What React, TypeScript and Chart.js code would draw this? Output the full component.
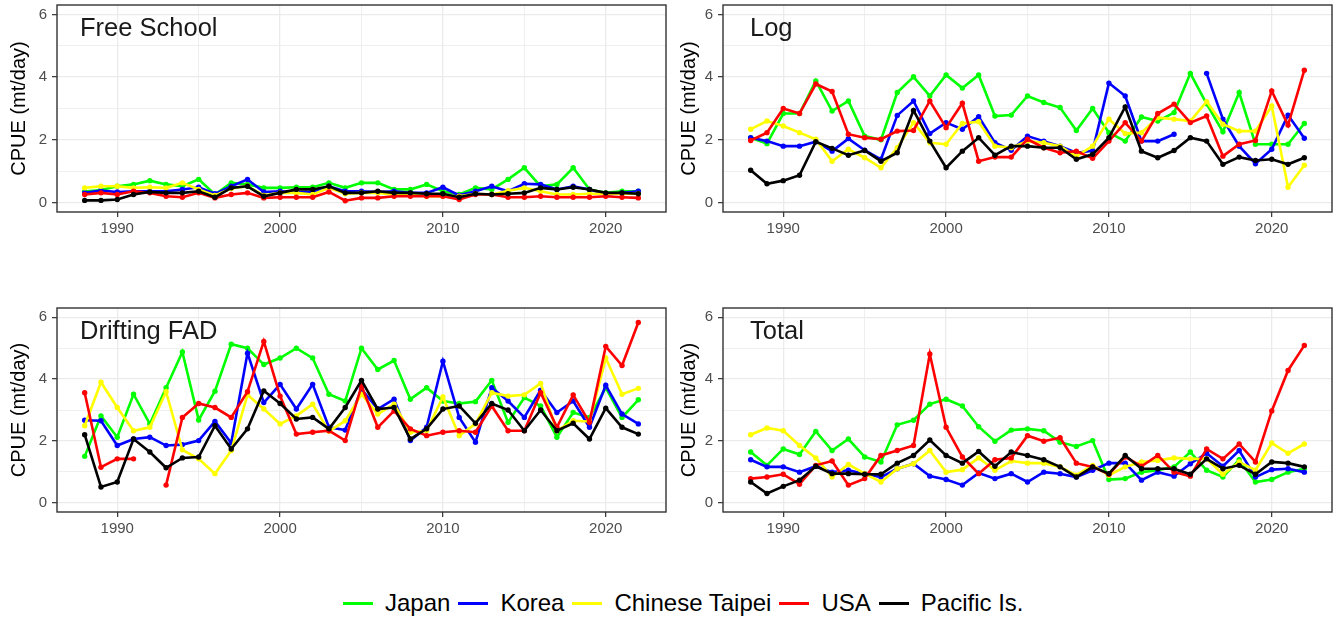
import React, { useEffect, useRef } from "react";
import { Chart, registerables } from "chart.js";
Chart.register(...registerables);

const FONT = '"Liberation Sans", Arial, Helvetica, sans-serif';

const years = [1988, 1989, 1990, 1991, 1992, 1993, 1994, 1995, 1996, 1997, 1998, 1999, 2000, 2001, 2002, 2003, 2004, 2005, 2006, 2007, 2008, 2009, 2010, 2011, 2012, 2013, 2014, 2015, 2016, 2017, 2018, 2019, 2020, 2021, 2022];

const countries = ["Japan", "Korea", "Chinese Taipei", "USA", "Pacific Is."];
const countryColors = ["#00FF00", "#0000FF", "#FFFF00", "#FF0000", "#000000"];

const xTicks = [1990, 1995, 2000, 2005, 2010, 2015, 2020];
const yTicks = [0, 1, 2, 3, 4, 5, 6];

// Free School
const fsJapan = [0.35, 0.40, 0.52, 0.58, 0.70, 0.58, 0.52, 0.74, 0.26, 0.63, 0.58, 0.47, 0.47, 0.49, 0.49, 0.63, 0.47, 0.63, 0.63, 0.42, 0.42, 0.58, 0.36, 0.26, 0.47, 0.42, 0.74, 1.11, 0.52, 0.58, 1.11, 0.42, 0.31, 0.36, 0.36];
const fsKorea = [0.31, 0.38, 0.34, 0.36, 0.36, 0.36, 0.42, 0.49, 0.28, 0.52, 0.74, 0.34, 0.36, 0.34, 0.34, 0.52, 0.36, 0.36, 0.34, 0.36, 0.31, 0.31, 0.49, 0.23, 0.36, 0.52, 0.36, 0.60, 0.58, 0.42, 0.52, 0.42, 0.26, 0.31, 0.36];
const fsTaipei = [0.47, 0.52, 0.52, 0.47, 0.49, 0.47, 0.63, 0.42, 0.23, 0.45, 0.52, 0.23, 0.31, 0.31, 0.26, 0.47, 0.28, 0.31, 0.31, 0.26, 0.26, 0.20, 0.20, 0.20, 0.28, 0.26, 0.38, 0.47, 0.36, 0.26, 0.26, 0.28, 0.28, 0.28, 0.28];
const fsUSA = [0.26, 0.31, 0.26, 0.36, 0.31, 0.20, 0.17, 0.31, 0.15, 0.26, 0.31, 0.15, 0.17, 0.17, 0.17, 0.34, 0.06, 0.15, 0.15, 0.20, 0.20, 0.20, 0.20, 0.10, 0.26, 0.26, 0.17, 0.17, 0.20, 0.17, 0.17, 0.17, 0.20, 0.17, 0.15];
const fsPacific = [0.07, 0.07, 0.10, 0.26, 0.34, 0.31, 0.31, 0.36, 0.17, 0.47, 0.52, 0.20, 0.31, 0.42, 0.42, 0.52, 0.31, 0.31, 0.36, 0.31, 0.31, 0.28, 0.28, 0.17, 0.28, 0.26, 0.28, 0.31, 0.47, 0.42, 0.49, 0.42, 0.31, 0.31, 0.28];

// Log
const logJapan = [2.07, 1.88, 2.84, 2.84, 3.88, 2.92, 3.24, 2.12, 2.00, 3.51, 4.01, 3.40, 4.07, 3.65, 4.07, 2.76, 2.79, 3.40, 3.19, 3.03, 2.30, 3.00, 2.23, 1.96, 2.73, 2.60, 2.87, 4.12, 3.15, 2.26, 3.51, 1.86, 1.86, 1.86, 2.52];
const logKorea = [2.07, 1.96, 1.80, 1.80, 1.94, 1.64, 2.04, 1.67, 1.38, 2.78, 3.24, 2.20, 2.55, 2.34, 2.74, 1.91, 1.67, 2.12, 1.96, 1.80, 1.59, 1.65, 3.81, 3.40, 1.96, 1.96, 2.18, null, 4.12, 2.66, 1.80, 1.24, 1.70, 2.79, 2.05];
const logTaipei = [2.34, 2.60, 2.44, 2.23, 2.02, 1.32, 1.70, 1.43, 1.11, 1.75, 2.55, 1.91, 1.86, 2.52, 2.58, 1.80, 1.75, 1.96, 1.91, 1.80, 1.48, 1.80, 2.66, 2.20, 2.23, 2.71, 2.66, 2.60, 3.22, 2.50, 2.28, 2.28, 3.08, 0.49, 1.19];
const logUSA = [1.98, 2.23, 3.00, 2.84, 3.78, 3.54, 2.18, 2.07, 2.02, 2.28, 2.30, 3.24, 2.39, 3.17, 1.32, 1.45, 1.45, 2.02, 1.75, 1.59, 1.64, 1.41, 1.96, 2.55, 1.96, 2.84, 3.14, 2.55, 2.76, 1.48, 1.86, 1.98, 3.56, 2.47, 4.22];
const logPacific = [1.03, 0.60, 0.70, 0.87, 1.94, 1.73, 1.51, 1.66, 1.32, 1.59, 2.94, 1.96, 1.11, 1.64, 2.07, 1.51, 1.80, 1.80, 1.75, 1.75, 1.38, 1.54, 2.07, 3.05, 1.64, 1.43, 1.66, 2.07, 1.96, 1.22, 1.45, 1.34, 1.38, 1.22, 1.43];

// Drifting FAD
const fadJapan = [1.50, 2.81, 2.12, 3.51, 2.55, 3.72, 4.88, 2.68, 3.61, 5.13, 5.00, 4.47, 4.68, 5.00, 4.68, 3.51, 3.29, 5.00, 4.31, 4.60, 3.35, 3.72, 3.29, 3.21, 3.27, 3.96, 2.60, 3.40, 3.13, 2.12, 2.92, 2.76, 3.72, 2.76, 3.33];
const fadKorea = [2.67, 2.65, 1.85, 2.06, 2.12, 1.85, 1.88, 2.01, 2.63, 1.93, 4.84, 3.24, 3.83, 3.03, 3.83, 2.44, 2.35, 3.67, 3.03, 3.35, 2.01, 2.44, 4.58, 2.76, 1.96, 3.72, 3.29, 2.76, 3.64, 2.92, 3.29, 2.44, 3.80, 2.87, 2.55];
const fadTaipei = [2.49, 3.90, 3.08, 2.33, 2.44, 3.59, 1.71, 1.42, 0.94, 1.69, 3.49, 3.03, 2.55, 2.81, 3.19, 2.31, 2.65, 3.51, 2.87, 3.19, 2.28, 2.33, 3.42, 2.17, 2.55, 3.56, 3.45, 3.49, 3.86, 2.33, 2.65, 2.63, 4.68, 3.51, 3.70];
const fadUSA = [3.56, 1.15, 1.42, 1.42, null, 0.57, 2.76, 3.21, 3.08, 2.76, 3.59, 5.22, 3.45, 2.22, 2.28, 2.33, 2.01, 3.78, 2.44, 2.97, 2.39, 2.17, 2.28, 2.33, 2.28, 3.13, 2.33, 2.33, 3.56, 2.44, 3.49, 2.60, 5.06, 4.44, 5.83];
const fadPacific = [2.20, 0.51, 0.67, 2.06, 1.64, 1.13, 1.45, 1.48, 2.49, 1.74, 2.39, 3.62, 3.21, 2.71, 2.76, 2.39, 3.08, 3.96, 3.03, 3.08, 2.06, 2.39, 3.03, 3.13, 2.57, 3.21, 3.00, 2.33, 3.00, 2.33, 2.57, 2.06, 3.06, 2.44, 2.22];

// Total
const totJapan = [1.64, 1.21, 1.74, 1.56, 2.31, 1.69, 2.06, 1.48, 1.32, 2.52, 2.67, 3.19, 3.35, 3.13, 2.46, 1.99, 2.35, 2.39, 2.33, 1.96, 1.82, 2.01, 0.75, 0.78, 0.99, 1.05, 1.16, 1.64, 1.05, 0.83, 1.39, 0.67, 0.75, 0.99, 1.10];
const totKorea = [1.39, 1.16, 1.16, 0.99, 1.18, 0.99, 1.05, 0.94, 0.83, 1.10, 1.26, 0.86, 0.75, 0.57, 0.96, 0.78, 0.94, 0.67, 0.99, 0.94, 0.83, 1.05, 1.28, 1.28, 0.73, 0.99, 0.86, 1.26, 1.60, 1.18, 1.69, 0.83, 1.07, 1.10, 0.99];
const totTaipei = [2.20, 2.42, 2.33, 1.85, 1.45, 0.83, 1.24, 0.94, 0.67, 1.10, 1.26, 1.69, 0.99, 1.07, 1.45, 1.05, 1.35, 1.28, 1.28, 1.16, 0.89, 1.21, 0.89, 1.16, 1.32, 1.37, 1.45, 1.42, 1.42, 0.92, 1.32, 1.05, 1.93, 1.60, 1.90];
const totUSA = [0.78, 0.83, 0.92, 0.60, 1.21, 1.35, 0.57, 0.78, 1.53, 1.69, 1.85, 4.81, 2.44, 1.48, 0.94, 1.39, 1.45, 2.17, 1.99, 2.10, 1.28, 1.16, 0.92, 1.48, 1.18, 1.53, 0.99, 0.86, 1.74, 1.42, 1.90, 1.32, 2.97, 4.28, 5.09];
const totPacific = [0.67, 0.30, 0.53, 0.73, 1.18, 0.94, 0.94, 0.92, 0.92, 1.28, 1.53, 2.03, 1.53, 1.28, 1.66, 1.18, 1.64, 1.53, 1.39, 1.16, 0.83, 1.16, 0.94, 1.53, 1.10, 1.10, 1.10, 0.92, 1.42, 1.10, 1.21, 0.92, 1.32, 1.28, 1.16];

type Series = (number | null)[];

const boxPlugin = {
  id: "panelBox",
  afterDraw(chart: any) {
    const { ctx, chartArea } = chart;
    ctx.save();
    ctx.strokeStyle = "#333333";
    ctx.lineWidth = 1.4;
    ctx.strokeRect(chartArea.left, chartArea.top, chartArea.right - chartArea.left, chartArea.bottom - chartArea.top);
    ctx.restore();
  },
};

const labelPlugin = {
  id: "panelLabel",
  afterDraw(chart: any, _args: any, opts: any) {
    const { ctx, chartArea } = chart;
    ctx.save();
    ctx.font = `25.5px ${FONT}`;
    ctx.fillStyle = "#1a1a1a";
    ctx.textBaseline = "alphabetic";
    ctx.textAlign = "left";
    ctx.fillText(opts.text, chartArea.left + opts.dx, chartArea.top + 30.5);
    ctx.restore();
  },
};

interface PanelProps {
  label: string;
  series: Series[];
  left: number;
  top: number;
  width: number;
  height: number;
  padTop: number;
  padRight: number;
  yWidth: number;
  labelDx: number;
}

function Panel(p: PanelProps) {
  const ref = useRef<HTMLCanvasElement>(null);
  useEffect(() => {
    const datasets = p.series.map((vals, i) => ({
      label: countries[i],
      data: years.map((yr, j) => ({ x: yr, y: vals[j] })),
      borderColor: countryColors[i],
      backgroundColor: countryColors[i],
      pointBackgroundColor: countryColors[i],
      pointBorderWidth: 0,
      pointRadius: 2.7,
      borderWidth: 2.6,
      tension: 0,
      spanGaps: false,
      order: countries.length - i,
    }));
    const chart = new Chart(ref.current as HTMLCanvasElement, {
      type: "line",
      data: { datasets } as any,
      plugins: [boxPlugin, labelPlugin],
      options: {
        animation: false,
        responsive: false,
        maintainAspectRatio: false,
        events: [],
        layout: { padding: { top: p.padTop, right: p.padRight, left: 0, bottom: 0 } },
        plugins: {
          legend: { display: false },
          tooltip: { enabled: false },
          panelLabel: { text: p.label, dx: p.labelDx },
        } as any,
        scales: {
          x: {
            type: "linear",
            min: 1986.3,
            max: 2023.7,
            afterBuildTicks: (s: any) => {
              s.ticks = xTicks.map((v) => ({ value: v }));
            },
            afterFit: (s: any) => {
              s.height = 38;
              s.paddingLeft = 0;
              s.paddingRight = 0;
            },
            ticks: {
              autoSkip: false,
              maxRotation: 0,
              padding: 3,
              color: "#4d4d4d",
              font: { family: FONT, size: 15 },
              callback: (v: any) => (Number(v) % 10 === 0 ? String(v) : ""),
            },
            grid: {
              color: "#ebebeb",
              lineWidth: (c: any) => (c.tick && c.tick.value % 10 === 0 ? 1.3 : 0.8),
              tickColor: (c: any) => (c.tick && c.tick.value % 10 === 0 ? "#333333" : "rgba(0,0,0,0)"),
              tickWidth: 1.2,
              tickLength: 5,
            },
            border: { display: false },
          },
          y: {
            type: "linear",
            min: -0.3,
            max: 6.3,
            afterBuildTicks: (s: any) => {
              s.ticks = yTicks.map((v) => ({ value: v }));
            },
            afterFit: (s: any) => {
              s.width = p.yWidth;
              s.paddingTop = 0;
              s.paddingBottom = 0;
            },
            ticks: {
              padding: 5,
              color: "#4d4d4d",
              font: { family: FONT, size: 15 },
              callback: (v: any) => (Number(v) % 2 === 0 ? String(v) : ""),
            },
            title: {
              display: true,
              text: "CPUE (mt/day)",
              color: "#000000",
              font: { family: FONT, size: 20 },
              padding: { top: 7, bottom: 0 },
            },
            grid: {
              color: "#ebebeb",
              lineWidth: (c: any) => (c.tick && c.tick.value % 2 === 0 ? 1.3 : 0.8),
              tickColor: (c: any) => (c.tick && c.tick.value % 2 === 0 ? "#333333" : "rgba(0,0,0,0)"),
              tickWidth: 1.2,
              tickLength: 5,
            },
            border: { display: false },
          },
        },
      } as any,
    });
    return () => chart.destroy();
  }, []);
  return (
    <canvas
      ref={ref}
      width={p.width}
      height={p.height}
      style={{ position: "absolute", left: p.left, top: p.top, width: p.width, height: p.height }}
    />
  );
}

export default function App() {
  return (
    <div style={{ position: "fixed", left: 0, top: 0, width: 1341, height: 621, background: "#ffffff", overflow: "hidden", fontFamily: FONT }}>
      <Panel label="Free School" series={[fsJapan, fsKorea, fsTaipei, fsUSA, fsPacific]} left={0} top={0} width={670} height={250} padTop={5} padRight={3} yWidth={57} labelDx={23} />
      <Panel label="Log" series={[logJapan, logKorea, logTaipei, logUSA, logPacific]} left={670} top={0} width={671} height={250} padTop={5} padRight={9} yWidth={53} labelDx={27} />
      <Panel label="Drifting FAD" series={[fadJapan, fadKorea, fadTaipei, fadUSA, fadPacific]} left={0} top={290} width={670} height={260} padTop={18} padRight={3} yWidth={57} labelDx={23} />
      <Panel label="Total" series={[totJapan, totKorea, totTaipei, totUSA, totPacific]} left={670} top={290} width={671} height={260} padTop={18} padRight={9} yWidth={53} labelDx={27} />
      <div style={{ position: "absolute", left: 343, top: 588, height: 30, display: "flex", alignItems: "center", whiteSpace: "nowrap" }}>
        {countries.map((c, i) => (
          <div key={c} style={{ display: "flex", alignItems: "center", marginRight: 8 }}>
            <span style={{ display: "inline-block", width: 30, height: 3, background: countryColors[i], marginRight: 12 }} />
            <span style={{ fontSize: 24, color: "#000000", lineHeight: "30px" }}>{c}</span>
          </div>
        ))}
      </div>
    </div>
  );
}
